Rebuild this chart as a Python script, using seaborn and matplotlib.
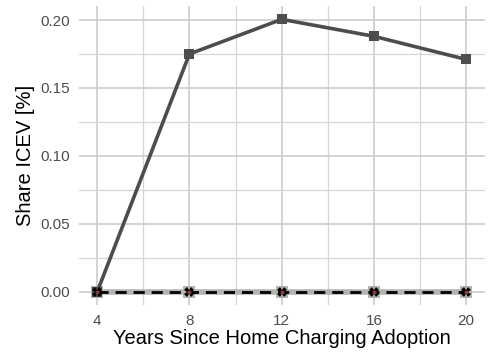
import matplotlib
matplotlib.use("Agg")
import matplotlib.pyplot as plt
import seaborn as sns
import pandas as pd
from matplotlib.ticker import MultipleLocator

years = [4, 8, 12, 16, 20]
share_main = [0.0, 0.175, 0.2005, 0.188, 0.171]
share_b = [0.0, 0.0, 0.0, 0.0, 0.0]
share_c = [0.0, 0.0, 0.0, 0.0, 0.0]
share_d = [0.0, 0.0, 0.0, 0.0, 0.0]
xticks = [4, 8, 12, 16, 20]
yticks = [0.00, 0.05, 0.10, 0.15, 0.20]

sns.set_theme(style="whitegrid")
plt.rcParams['font.family'] = ['Liberation Sans', 'DejaVu Sans']

fig, ax = plt.subplots(figsize=(4.89, 3.56), dpi=100)
fig.subplots_adjust(left=0.161, right=0.991, top=0.982, bottom=0.142)

df = pd.DataFrame({"x": years, "a": share_main, "b": share_b, "c": share_c, "d": share_d})

sns.lineplot(data=df, x="x", y="b", ax=ax, color="#b3b3b3", lw=4, marker="s",
             markersize=9, markeredgewidth=0, zorder=3)
sns.lineplot(data=df, x="x", y="a", ax=ax, color="#4d4d4d", lw=2.6, marker="s",
             markersize=7.5, markeredgewidth=0, zorder=4)
sns.lineplot(data=df, x="x", y="c", ax=ax, color="black", lw=2, ls=(0, (4, 2.5)),
             marker="X", markersize=7, markeredgewidth=0, zorder=5)
sns.lineplot(data=df, x="x", y="d", ax=ax, color="#e06060", lw=0, marker="o",
             markersize=3, markeredgewidth=0, alpha=0.6, zorder=6)

ax.set_xlim(3.2, 20.8)
ax.set_ylim(-0.01, 0.21)
ax.set_xticks(xticks)
ax.set_yticks(yticks)
ax.set_yticklabels([f"{v:.2f}" for v in yticks])
ax.xaxis.set_minor_locator(MultipleLocator(2))
ax.yaxis.set_minor_locator(MultipleLocator(0.025))
ax.grid(which="major", color="#cccccc", lw=1.2)
ax.grid(which="minor", color="#d6d6d6", lw=0.9)
for s in ax.spines.values():
    s.set_visible(False)
ax.tick_params(axis="both", which="both", length=0, labelsize=11, labelcolor="#4d4d4d", pad=6)
ax.set_xlabel("Years Since Home Charging Adoption", fontsize=14.5, color="black", labelpad=1)
ax.set_ylabel("Share ICEV [%]", fontsize=14.5, color="black", labelpad=4)

fig.savefig("out.png", dpi=100)
